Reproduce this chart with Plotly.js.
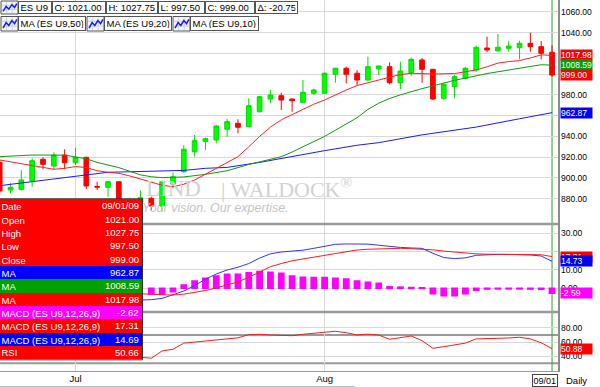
<!DOCTYPE html>
<html><head><meta charset="utf-8">
<script src="https://cdn.plot.ly/plotly-3.0.1.min.js"></script>
<style>html,body{margin:0;padding:0;background:#fff;}#chart{width:600px;height:387px;}</style>
</head><body><div id="chart"></div>
<script>
// ---- Candles (ES U9 daily, index 0 = first visible session; 7 = Jul 1, 30 = Aug 3, 51 = Sep 1) ----
const openP  = [915,888.4,889.1,897.4,918,911.5,922.1,914.7,919.9,891.8,891,896.4,874,877,880.5,873,894.2,906,925.3,935,936.6,946.9,952.6,949.4,963.8,976,979.2,976,972.8,981.5,981.5,999.8,1005.6,1000.8,994.3,1004.9,1007.1,991.7,1001.3,1013.6,1004.6,976.7,987.9,995.9,1003.9,1025.1,1022.5,1024.8,1025.4,1029.6,1026.4,1021];
const highP  = [917,894.9,907.7,918.9,919.9,924.7,927.6,929.1,920.5,896.4,896.4,897,881,888,882,897.5,905.1,931.7,941.4,938.8,951,956.8,956.5,976.7,979,984.7,982.1,976.5,994.3,986,1001.5,1006,1007.1,1003.9,1016.7,1008,1011.3,1011.9,1015.8,1015.5,1005,991,999.1,1007,1027.3,1036,1038.6,1032.1,1032.1,1039.8,1031.8,1027.75];
const lowP   = [884,885.3,888,891.6,908.4,907.7,908.4,912.5,889.5,888.4,882,873,866,872,869,868,890.1,905,920.5,926.9,933.4,939.7,943,949,963,971.9,965.4,963.8,972,980,981,991.7,991,989.5,993,999.1,990.2,985.6,998.2,991.7,975,975.5,976.7,995,1002,1021,1021.5,1021.5,1014.2,1021.5,1014.2,997.5];
const closeP = [887.5,891,898.1,916.6,913.2,922.1,914.7,919.9,892.3,891.2,896.4,876,876,881,873,896.4,901.2,927.6,935.9,937.8,950,954.2,948.8,969.6,978.2,979.9,975,974.4,982.5,984.7,1000.8,1005.6,999.8,994.3,1007.1,1007.8,991.7,1003,1014.2,1004.6,976,990.2,997.5,1005.6,1025.8,1023.2,1025.8,1027,1029.6,1026.4,1020,999];

// ---- Moving averages (session index, value) ----
const ma50Idx = [0,3,6,8,10,12,15,17,19,21,24,26,28,30,33,35,39,44,48,50,51];
const ma50Val = [892.6,896.4,900,903.2,905.5,906,906.7,907.3,909.3,910.2,915,919,922.5,926.3,931.5,934,941.5,949,957,961,962.87];
const ma20Idx = [0,3,6,7,8,9,10,11,12,13,14,15,17,19,21,23,25,26,27,28,29,30,31,32,33,34,35,36,37,39,42,45,48,50,51];
const ma20Val = [920.5,922.1,922,920.5,918.5,915,912.5,910,906.5,903,901.2,900.3,901,903.5,907,913,918,920.5,925,930,935,940,946,952,958,966,972,976.5,980,986,994,1000.5,1005.6,1009,1008.59];
const ma10Idx = [0,1,3,4,5,6,7,8,9,10,11,12,13,14,15,16,17,18,19,20,21,22,23,24,25,26,27,28,29,30,31,32,33,34,35,36,37,38,40,42,44,45,46,47,48,49,50,51];
const ma10Val = [917.3,915.5,911.5,909.5,908.4,909.3,911,910,907,905.5,904.5,902,899,896,893,891.6,894,898,903.5,909.3,915,920.5,930,940,949,956,961,966,971,975,980,984.7,989,992,994.3,997,999.5,1000.8,1000.1,1000.5,1004,1007,1010.6,1012,1013,1015.5,1018.5,1017.98];

// ---- MACD (12,26,9) ----
const macdIdx = [13,14,15,16,17,18,19,20,21,22,23,24,25,26,27,28,29,30,31,32,33,34,35,36,37,38,39,40,41,42,43,44,45,46,47,48,49,50,51];
const macdVal = [-6.4,-6.2,-5.5,-3.7,-1.5,1.5,5,7.8,10,11.5,13.5,16.5,18.8,19.8,20.3,20.8,21.8,23,24,24.2,24.2,24.1,23.5,22.7,22.3,22,21.8,19.1,16.8,16.2,16.6,18,18.4,18.5,18.5,18.5,18.2,17.6,14.69];
const signalVal = [-3,-3.3,-3.6,-3.7,-3.2,-2.4,-1.2,0.2,1.8,3.5,6,9,11.8,13.5,15,16,17,18,19.2,20.3,20.9,21.3,21.5,21.8,21.8,21.6,21.4,21,20.3,19.7,19.2,18.8,18.6,18.5,18.5,18.5,18.5,18.3,17.31];
const histIdx = [14,15,16,17,18,19,20,21,22,23,24,25,26,27,28,29,30,31,32,33,34,35,36,37,38,39,40,41,42,43,44,45,46,47,48,49,50,51];
const histVal = [-3.1,-3.1,-1.8,1.8,4,5.5,6.7,7.6,7.6,8.5,9.1,8.7,8.2,6.7,6,5.8,5.8,5.5,5.1,4,3.3,2.7,0.8,0.6,0.4,0.3,-3,-4,-4,-3,-1,-0.4,-0.3,-0.3,-0.3,-0.4,-0.5,-2.62];

// ---- RSI ----
const rsiIdx = [13,14,15,16,17,18,19,20,21,22,23,24,25,26,27,28,29,30,31,32,33,34,35,36,37,38,39,40,41,42,43,44,45,46,47,48,49,50,51];
const rsiVal = [38.5,37.2,47.5,49.8,58.5,60.5,61.5,63,64.2,66,70.5,71,70,69.5,69,71,72.5,74.5,75.3,73.3,70,71.2,70,63.9,66.5,68.6,62,51.2,53.5,56,58.5,64.5,65.3,65.3,65.8,66.8,64.5,59.1,50.66];

// ---- Axis ticks / labels ----
const monthTickIdx = [7,30];
const monthTickText = ['Jul','Aug'];
const priceGrid = [880,900,920,940,960,980,1000,1020,1040,1060];
const priceLabels = [880,900,920,940,980,1040,1060];   // the others sit under the value flags
const macdGrid = [0,10,20,30];
const macdLabels = [0,10,30];
const rsiTicks = [40,60,80];
const rsiBands = [70,30];

// ---- Legend / data window texts ----
const legendRow1 = ['ES U9','O: 1021.00','H: 1027.75','L: 997.50','C: 999.00','\u0394: -20.75'];
const legendRow2 = ['MA (ES U9,50)','MA (ES U9,20)','MA (ES U9,10)'];
const dwLabels = ['Date','Open','High','Low','Close','MA','MA','MA','MACD (ES U9,12,26,9)','MACD (ES U9,12,26,9)','MACD (ES U9,12,26,9)','RSI'];
const dwValues = ['09/01/09','1021.00','1027.75','997.50','999.00','962.87','1008.59','1017.98','-2.62','17.31','14.69','50.66'];
const dwColors = ['#ff0000','#ff0000','#ff0000','#ff0000','#ff0000','#0000ff','#00a000','#ff0000','#ff00ff','#ff0000','#0000ff','#ff0000'];
const lastLabels = [
  {axis:'y',  v:1017.98, t:'1017.98', c:'#ff0000'},
  {axis:'y',  v:1008.59, t:'1008.59', c:'#00a000'},
  {axis:'y',  v:999.00,  t:'999.00',  c:'#ff0000'},
  {axis:'y',  v:962.87,  t:'962.87',  c:'#0000ff'},
  {axis:'y2', v:17.31,   t:'17.31',   c:'#ff0000'},
  {axis:'y2', v:14.73,   t:'14.73',   c:'#0000ff'},
  {axis:'y2', v:-2.59,   t:'-2.59',   c:'#ff00ff'},
  {axis:'y3', v:50.88,   t:'50.88',   c:'#ff0000'}
];

// ---- geometry helpers (pixel -> paper) ----
const PW = 558, PH = 387;
const px = x => x / PW;
const py = y => 1 - y / PH;
const FONT = 'Liberation Sans, Arial, sans-serif';
const idx = openP.map((_, i) => i);

const traces = [
  {type:'candlestick', x:idx, open:openP, high:highP, low:lowP, close:closeP, xaxis:'x', yaxis:'y',
   increasing:{line:{color:'#00dd00', width:1}, fillcolor:'#00ff00'},
   decreasing:{line:{color:'#ff0000', width:1}, fillcolor:'#ff0000'},
   whiskerwidth:0, hoverinfo:'skip', showlegend:false},
  {type:'scatter', mode:'lines', x:ma50Idx, y:ma50Val, xaxis:'x', yaxis:'y', line:{color:'#1a1aff', width:1}, hoverinfo:'skip'},
  {type:'scatter', mode:'lines', x:ma20Idx, y:ma20Val, xaxis:'x', yaxis:'y', line:{color:'#119911', width:1}, hoverinfo:'skip'},
  {type:'scatter', mode:'lines', x:ma10Idx, y:ma10Val, xaxis:'x', yaxis:'y', line:{color:'#ff2020', width:1}, hoverinfo:'skip'},
  {type:'bar', x:histIdx, y:histVal, xaxis:'x', yaxis:'y2', width:0.48,
   marker:{color:'#ff00ff', line:{color:'#ff00ff', width:1.6}}, hoverinfo:'skip'},
  {type:'scatter', mode:'lines', x:macdIdx, y:macdVal, xaxis:'x', yaxis:'y2', line:{color:'#3333ff', width:1}, hoverinfo:'skip'},
  {type:'scatter', mode:'lines', x:macdIdx, y:signalVal, xaxis:'x', yaxis:'y2', line:{color:'#ff1a1a', width:1}, hoverinfo:'skip'},
  {type:'scatter', mode:'lines', x:rsiIdx, y:rsiVal, xaxis:'x', yaxis:'y3', line:{color:'#ff1a1a', width:1}, hoverinfo:'skip'}
];

const shapes = [];
const annotations = [];

// panel separators and frame
const gray = '#9a9a9a';
shapes.push({type:'line', xref:'paper', yref:'paper', x0:0, x1:px(560), y0:py(224), y1:py(224), line:{color:gray, width:2.5}, layer:'above'});
shapes.push({type:'line', xref:'paper', yref:'paper', x0:0, x1:px(560), y0:py(312), y1:py(312), line:{color:gray, width:2.5}, layer:'above'});
shapes.push({type:'line', xref:'paper', yref:'paper', x0:0, x1:px(560), y0:py(371.5), y1:py(371.5), line:{color:gray, width:1}, layer:'above'});
rsiBands.forEach(v => shapes.push({type:'line', xref:'paper', yref:'y3', x0:0, x1:1, y0:v, y1:v, line:{color:gray, width:2}, layer:'below'}));
shapes.push({type:'line', xref:'x', yref:'paper', x0:51, x1:51, y0:py(372), y1:1, line:{color:'#2e9e2e', width:1}, layer:'below'});
shapes.push({type:'line', xref:'paper', yref:'paper', x0:px(559), x1:px(559), y0:py(372), y1:1, line:{color:'#8c8c8c', width:2}, layer:'above'});
shapes.push({type:'line', xref:'paper', yref:'paper', x0:0, x1:px(355), y0:py(386.5), y1:py(386.5), line:{color:'#a9bcd3', width:1}, layer:'above'});

// watermark
annotations.push({xref:'paper', yref:'paper', x:px(203), y:py(188), xanchor:'right', yanchor:'middle', showarrow:false,
  text:'LIND', font:{family:'Liberation Serif, Times New Roman, serif', size:23, color:'#d2d2d2'}});
annotations.push({xref:'paper', yref:'paper', x:px(219), y:py(188), xanchor:'left', yanchor:'middle', showarrow:false,
  text:'| WALDOCK<sup>®</sup>', font:{family:'Liberation Serif, Times New Roman, serif', size:22, color:'#d2d2d2'}});
annotations.push({xref:'paper', yref:'paper', x:px(140), y:py(208), xanchor:'left', yanchor:'middle', showarrow:false,
  text:'<i>Your vision. Our expertise.</i>', font:{family:FONT, size:12.5, color:'#c4c4c4'}});

// legend boxes
function box(x0, y0, x1, y1, text, opt) {
  opt = opt || {};
  const bw = opt.bw === undefined ? 1 : opt.bw;
  const bp = opt.bp === undefined ? 1 : opt.bp;
  annotations.push({xref:'paper', yref:'paper', x:px(x0), y:py(y0), xanchor:'left', yanchor:'top', showarrow:false,
    text:text, align:opt.align || 'left', valign:'middle',
    width:Math.max(1, x1 - x0 - 2*bp - 2*bw), height:Math.max(1, y1 - y0 - 2*bp - 2*bw),
    bgcolor:opt.bg || '#ffffff', bordercolor:opt.bc || '#555555', borderwidth:bw, borderpad:bp,
    font:{family:FONT, size:opt.size || 9.5, color:opt.color || '#000000'}});
}
function icon(x0, y0, x1, y1) {
  shapes.push({type:'rect', xref:'paper', yref:'paper', x0:px(x0), x1:px(x1), y0:py(y1), y1:py(y0),
    fillcolor:'#f2f5fb', line:{color:'#555555', width:1}, layer:'above'});
  const w = x1 - x0, h = y1 - y0;
  [0.33, 0.66].forEach(f => {
    shapes.push({type:'line', xref:'paper', yref:'paper', x0:px(x0 + 1), x1:px(x1 - 1), y0:py(y0 + h*f), y1:py(y0 + h*f), line:{color:'#c9d2e3', width:1}, layer:'above'});
    shapes.push({type:'line', xref:'paper', yref:'paper', x0:px(x0 + w*f), x1:px(x0 + w*f), y0:py(y0 + 1), y1:py(y1 - 1), line:{color:'#c9d2e3', width:1}, layer:'above'});
  });
  const pts = [[0.12,0.8],[0.3,0.42],[0.46,0.62],[0.64,0.28],[0.8,0.5],[0.93,0.2]];
  const d = pts.map((p, k) => (k ? 'L' : 'M') + px(x0 + p[0]*w).toFixed(5) + ',' + py(y0 + p[1]*h).toFixed(5)).join(' ');
  shapes.push({type:'path', xref:'paper', yref:'paper', path:d, line:{color:'#1a1aff', width:1.5}, layer:'above'});
}
const row1X = [18,52,106,158,205,255,298];
icon(1, 1, 18, 14);
legendRow1.forEach((t, k) => box(row1X[k], 1, row1X[k+1], 14, t, {bp:1.5}));
const row2X = [[1,18,86],[87,104,172],[173,190,259]];
legendRow2.forEach((t, k) => { icon(row2X[k][0], 16.5, row2X[k][1], 31); box(row2X[k][1], 16.5, row2X[k][2], 31, t, {bp:1.5}); });

// data window (rows overlap by 1px so no seams appear)
shapes.push({type:'rect', xref:'paper', yref:'paper', x0:px(-0.5), x1:px(142.5), y0:py(359.8), y1:py(198.8), line:{color:'#333333', width:1}, fillcolor:'rgba(0,0,0,0)', layer:'above'});
const rowH = (359.3 - 199.3) / dwLabels.length;
dwLabels.forEach((t, k) => {
  const y0 = 199.3 + k*rowH;
  const y1 = k === dwLabels.length - 1 ? y0 + rowH : y0 + rowH + 1.2;
  box(0, y0, 142, y1, t, {bw:0, bp:1.5, bg:dwColors[k], color:'#ffffff'});
  annotations.push({xref:'paper', yref:'paper', x:px(140.5), y:py(y0 + rowH/2), xanchor:'right', yanchor:'middle', showarrow:false,
    text:dwValues[k], font:{family:FONT, size:9.5, color:'#ffffff'}});
});

// last-value flags on the right scale
lastLabels.forEach(l => {
  annotations.push({xref:'paper', yref:l.axis, x:px(559.5), y:l.v, xanchor:'left', yanchor:'middle', showarrow:false,
    text:l.t, align:'left', width:31, height:10, borderpad:0, bgcolor:l.c, font:{family:FONT, size:8.5, color:'#ffffff'}});
});

// date flag + period
annotations.push({xref:'paper', yref:'paper', x:px(545), y:py(380), xanchor:'center', yanchor:'middle', showarrow:false,
  text:'09/01', bgcolor:'#ffffff', bordercolor:'#444444', borderwidth:1, borderpad:0.5, font:{family:FONT, size:9, color:'#000'}});
annotations.push({xref:'paper', yref:'paper', x:px(564), y:py(380), xanchor:'left', yanchor:'middle', showarrow:false,
  text:'Daily', font:{family:FONT, size:9.5, color:'#000'}});

const gridC = '#d9d9d9';
const yCommon = {side:'right', anchor:'x', showgrid:true, gridcolor:gridC, gridwidth:1, zeroline:false, showline:false,
  ticks:'', tickformat:'.2f', tickfont:{family:FONT, size:8.5, color:'#000'}, fixedrange:true, ticklabelstandoff:2};
const minorGrid = vals => ({tickmode:'array', tickvals:vals, showgrid:true, gridcolor:gridC, gridwidth:1, ticks:''});

const layout = {
  width:600, height:387, margin:{l:0, r:42, t:0, b:0, pad:0},
  paper_bgcolor:'#ffffff', plot_bgcolor:'#ffffff', showlegend:false, hovermode:false, dragmode:false,
  boxgap:0.38, bargap:0,
  xaxis:{domain:[0,1], anchor:'y3', range:[0.03, 51.55], tickmode:'array', tickvals:monthTickIdx, ticktext:monthTickText,
    showgrid:true, gridcolor:gridC, zeroline:false, showline:false, ticks:'',
    tickfont:{family:FONT, size:9.5, color:'#000'}, rangeslider:{visible:false}, fixedrange:true},
  yaxis:Object.assign({}, yCommon, {domain:[py(223), 1], range:[856.67, 1071.3], tickmode:'array', tickvals:priceLabels, minor:minorGrid(priceGrid)}),
  yaxis2:Object.assign({}, yCommon, {domain:[py(311), py(225)], range:[-12.38, 34.53], tickmode:'array', tickvals:macdLabels, minor:minorGrid(macdGrid)}),
  yaxis3:Object.assign({}, yCommon, {domain:[py(371), py(313)], range:[19.15, 101.07], tickmode:'array', tickvals:rsiTicks}),
  shapes:shapes, annotations:annotations
};

Plotly.newPlot('chart', traces, layout, {staticPlot:true, displayModeBar:false});
</script></body></html>
